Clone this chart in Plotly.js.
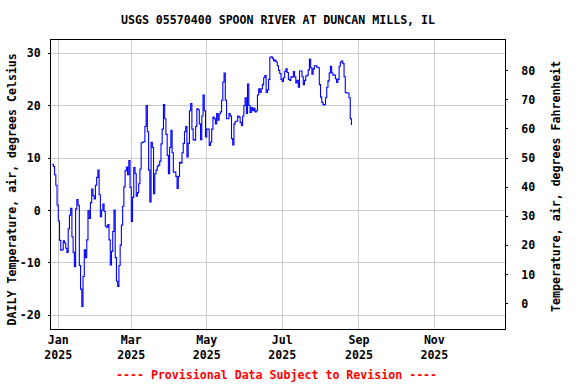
<!DOCTYPE html>
<html>
<head>
<meta charset="utf-8">
<script src="https://cdn.plot.ly/plotly-3.0.1.min.js"></script>
<style>
  html, body { margin: 0; padding: 0; background: #ffffff; }
  #chart { width: 576px; height: 384px; }
</style>
</head>
<body>
<div id="chart"></div>
<script>
// Daily mean air temperature, degrees Celsius
const startDate = '2024-12-27';
const dec2024 = [8.8, 8.4, 6.8, 4.8, 1.0];
const jan2025 = [-2.0, -5.7, -7.6, -7.5, -5.8, -6.2, -7.2, -8.0, -3.5, -0.9,
                 0.4, -5.0, -8.0, -10.7, 0.3, 2.1, 1.0, -10.5, -15.0, -18.3,
                 -12.6, -7.5, -9.0, -5.6, 0.0, -1.5, 1.5, 4.1, 2.8, 2.2, 4.8];
const feb2025 = [6.3, 7.7, 3.0, -1.2, 0.1, 1.2, -0.2, -3.0, -3.2, -2.7,
                 -5.6, -10.4, -7.8, -4.0, 0.1, -9.0, -13.5, -14.5, -10.5, -6.6,
                 -2.8, 0.8, 4.5, 7.6, 8.3, 6.8, 9.5, 4.4];
const mar2025 = [-2.1, 2.5, 8.2, 7.0, 2.7, 3.4, 5.1, 7.9, 12.9, 13.0,
                 13.1, 16.0, 20.0, 15.0, 7.7, 1.6, 13.0, 12.0, 3.2, 7.0,
                 7.7, 8.4, 8.7, 9.4, 12.7, 15.5, 20.2, 17.5, 14.5, 10.5, 7.0];
const apr2025 = [12.0, 15.3, 11.0, 7.3, 7.3, 6.5, 4.2, 6.5, 9.2, 9.0,
                 11.0, 12.8, 15.0, 16.0, 10.2, 12.8, 19.0, 20.4, 15.5, 13.5,
                 13.4, 16.0, 19.4, 19.2, 16.5, 13.5, 18.0, 22.0, 19.0, 14.0];
const may2025 = [15.5, 15.5, 12.4, 13.0, 15.5, 17.8, 17.5, 16.5, 18.5, 17.2,
                 18.4, 18.8, 21.0, 24.5, 26.2, 21.0, 17.5, 17.5, 18.5, 18.0,
                 13.7, 12.5, 16.5, 17.0, 17.0, 18.0, 17.8, 16.8, 16.2, 18.0, 20.0];
const jun2025 = [21.5, 18.5, 24.1, 20.0, 18.7, 19.6, 19.0, 19.5, 18.8, 19.0,
                 22.0, 23.2, 22.5, 23.2, 24.0, 25.3, 25.7, 22.5, 23.0, 25.0,
                 29.2, 29.3, 29.0, 28.5, 28.7, 28.3, 27.6, 26.7, 26.1, 25.0];
const jul2025 = [24.6, 25.3, 26.5, 27.0, 26.3, 25.0, 24.8, 25.5, 25.4, 26.5,
                 25.5, 24.3, 24.8, 23.5, 26.6, 26.6, 25.5, 24.0, 24.8, 25.6,
                 25.8, 26.8, 28.8, 27.2, 26.0, 27.0, 27.6, 27.6, 27.3, 27.2, 24.0];
const aug2025 = [21.6, 20.6, 20.1, 20.2, 21.5, 23.5, 24.7, 26.2, 27.5, 26.2,
                 25.8, 25.8, 25.1, 24.4, 25.0, 27.5, 28.3, 28.5, 28.0, 25.5,
                 22.5, 22.4, 22.4, 21.5, 17.5, 16.3];

const tickDates = ['2025-01-01', '2025-03-01', '2025-05-01', '2025-07-01', '2025-09-01', '2025-11-01'];
const tickLabels = ['Jan<br>2025', 'Mar<br>2025', 'May<br>2025', 'Jul<br>2025', 'Sep<br>2025', 'Nov<br>2025'];
const celsiusTicks = [-20, -10, 0, 10, 20, 30];
const fahrenheitTicks = [0, 10, 20, 30, 40, 50, 60, 70, 80];

const titleText = 'USGS 05570400 SPOON RIVER AT DUNCAN MILLS, IL';
const leftTitle = 'DAILY Temperature, air, degrees Celsius';
const rightTitle = 'Temperature, air, degrees Fahrenheit';
const footerText = '---- Provisional Data Subject to Revision ----';

const temps = [].concat(dec2024, jan2025, feb2025, mar2025, apr2025, may2025, jun2025, jul2025, aug2025);
const dates = [];
{
  const d0 = new Date(startDate + 'T00:00:00Z');
  for (let i = 0; i < temps.length; i++) {
    const d = new Date(d0.getTime() + i * 86400000);
    dates.push(d.toISOString().slice(0, 10));
  }
}

const cRange = [-22.6, 32.5];
const fRange = [cRange[0] * 1.8 + 32, cRange[1] * 1.8 + 32];

const FONT = 'DejaVu Sans Mono, Liberation Mono, monospace';
const baseFont = { family: FONT, size: 11.6, color: '#000000', weight: 'bold' };

const trace = {
  x: dates,
  y: temps,
  type: 'scatter',
  mode: 'lines',
  line: { color: '#0000ff', width: 1.1, shape: 'hv' },
  hoverinfo: 'skip',
  showlegend: false
};

const ghost = {
  x: [dates[0]],
  y: [fRange[0]],
  yaxis: 'y2',
  type: 'scatter',
  mode: 'markers',
  marker: { opacity: 0 },
  hoverinfo: 'skip',
  showlegend: false
};

const layout = {
  width: 576,
  height: 384,
  margin: { l: 51, r: 71, t: 40, b: 55, pad: 0 },
  paper_bgcolor: '#ffffff',
  plot_bgcolor: '#ffffff',
  font: baseFont,
  showlegend: false,
  title: {
    text: titleText,
    font: baseFont,
    xref: 'paper', x: 0.5, xanchor: 'center',
    yref: 'container', y: 1 - 20 / 384, yanchor: 'middle'
  },
  xaxis: {
    type: 'date',
    range: ['2024-12-26 02:24', '2025-12-28 02:24'],
    tickmode: 'array',
    tickvals: tickDates,
    ticktext: tickLabels,
    showgrid: true,
    gridcolor: '#cccccc',
    gridwidth: 1,
    showline: true,
    linecolor: '#000000',
    linewidth: 1,
    mirror: true,
    ticks: '',
    tickfont: baseFont,
    zeroline: false,
    fixedrange: true
  },
  yaxis: {
    range: cRange,
    tickmode: 'array',
    tickvals: celsiusTicks,
    ticktext: celsiusTicks.map(String),
    showgrid: true,
    gridcolor: '#cccccc',
    gridwidth: 1,
    showline: true,
    linecolor: '#000000',
    linewidth: 1,
    mirror: true,
    ticks: 'outside',
    ticklen: 2,
    tickcolor: '#000000',
    ticklabelstandoff: 5,
    tickfont: baseFont,
    zeroline: false,
    fixedrange: true
  },
  yaxis2: {
    overlaying: 'y',
    side: 'right',
    range: fRange,
    tickmode: 'array',
    tickvals: fahrenheitTicks,
    ticktext: fahrenheitTicks.map(String),
    showgrid: false,
    showline: false,
    ticks: 'outside',
    ticklen: 2,
    tickcolor: '#000000',
    ticklabelstandoff: 11,
    tickfont: baseFont,
    zeroline: false,
    fixedrange: true
  },
  annotations: [
    {
      text: leftTitle, textangle: -90, showarrow: false,
      xref: 'paper', yref: 'paper',
      x: (11.7 - 51) / 454, y: (329 - 189.7) / 289,
      xanchor: 'center', yanchor: 'middle',
      font: baseFont
    },
    {
      text: rightTitle, textangle: -90, showarrow: false,
      xref: 'paper', yref: 'paper',
      x: (556 - 51) / 454, y: (329 - 187) / 289,
      xanchor: 'center', yanchor: 'middle',
      font: baseFont
    },
    {
      text: footerText, showarrow: false,
      xref: 'paper', yref: 'paper',
      x: (276.5 - 51) / 454, y: (329 - 375) / 289,
      xanchor: 'center', yanchor: 'middle',
      font: { family: FONT, size: 11.6, color: '#ff0000', weight: 'bold' }
    }
  ]
};

Plotly.newPlot('chart', [trace, ghost], layout, { staticPlot: true, displayModeBar: false });
</script>
</body>
</html>
